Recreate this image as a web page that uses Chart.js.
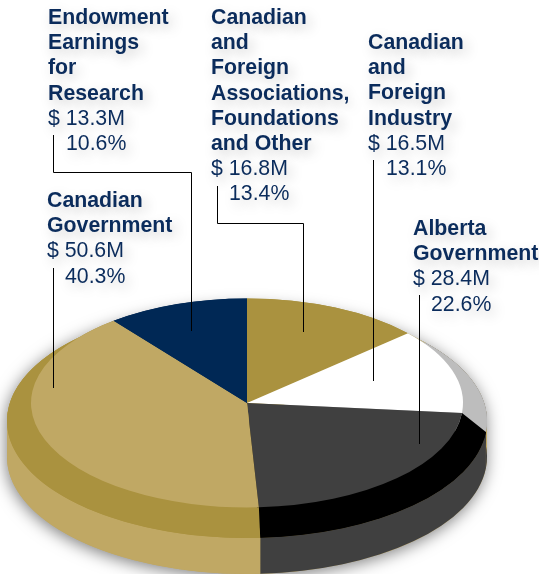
<!DOCTYPE html>
<html>
<head>
<meta charset="utf-8">
<style>html,body{margin:0;padding:0;background:#fff}canvas{display:block}</style>
<script src="https://cdn.jsdelivr.net/npm/chart.js@4"></script>
</head>
<body>
<canvas id="c" width="539" height="574"></canvas>
<script>
// Data, clockwise from 12 o'clock
const categories = [
  ["Canadian","and","Foreign","Associations,","Foundations","and Other"],
  ["Canadian","and","Foreign","Industry"],
  ["Alberta","Government"],
  ["Canadian","Government"],
  ["Endowment","Earnings","for","Research"]
];
const dollars = [16.8, 16.5, 28.4, 50.6, 13.3];
const percents = ["13.4%", "13.1%", "22.6%", "40.3%", "10.6%"];

// Styles
const topColors  = ["#AA923F", "#FFFFFF", "#404040", "#C0A864", "#002855"];
const rimColors  = ["#AA923F", "#BDBDBD", "#000000", "#AA923F", "#002855"];
const sideColors = ["#AA923F", "#404040", "#404040", "#C0A864", "#002855"];
const NAVY = "#0B2C5C";

// Layout of the label blocks: left x, first baseline
const labelX = [211, 368, 413, 47, 48];
const labelY = [24, 49, 235, 207, 24];
const LINE = 25.2;
const leaders = [
  [[217,186],[217,223.5],[303,223.5],[303,332]],
  [[373,160],[373,381]],
  [[419,295],[419,444]],
  [[53,268],[53,388]],
  [[53,135],[53,172.5],[191,172.5],[191,331]]
];

// Projection of the pie
const TOP_CY = 403, SQUASH = 104.5 / 216;
const RIM_RATIO = 240 / 216, RIM_CY = 421, RIM_RY = 117, DEPTH = 36;

const pie3d = {
  id: "pie3d",
  beforeDatasetsDraw(chart) {
    const ctx = chart.ctx, arcs = chart.getDatasetMeta(0).data;
    const cx = arcs[0].x, rx = arcs[0].outerRadius * RIM_RATIO;
    // soft drop shadow under the whole body
    ctx.save();
    ctx.shadowColor = "rgba(0,0,0,0.5)";
    ctx.shadowBlur = 16;
    ctx.shadowOffsetX = -1;
    ctx.shadowOffsetY = 3;
    ctx.fillStyle = "#C0A864";
    ctx.beginPath();
    ctx.ellipse(cx, RIM_CY, rx, RIM_RY, 0, Math.PI, 0);
    ctx.ellipse(cx, RIM_CY + DEPTH, rx, RIM_RY, 0, 0, Math.PI);
    ctx.closePath();
    ctx.fill();
    ctx.restore();
    // side wall
    arcs.forEach((a, i) => {
      ctx.fillStyle = sideColors[i];
      ctx.beginPath();
      ctx.ellipse(cx, RIM_CY, rx, RIM_RY, 0, a.startAngle, a.endAngle);
      ctx.ellipse(cx, RIM_CY + DEPTH, rx, RIM_RY, 0, a.endAngle, a.startAngle, true);
      ctx.closePath();
      ctx.fill();
    });
    // bevel rim
    arcs.forEach((a, i) => {
      ctx.fillStyle = rimColors[i];
      ctx.beginPath();
      ctx.moveTo(cx, RIM_CY);
      ctx.ellipse(cx, RIM_CY, rx, RIM_RY, 0, a.startAngle, a.endAngle);
      ctx.closePath();
      ctx.fill();
    });
    // bevel band between the top face and the rim
    arcs.forEach((a, i) => {
      const r = a.outerRadius, ry = r * SQUASH;
      ctx.fillStyle = rimColors[i];
      ctx.beginPath();
      ctx.ellipse(cx, TOP_CY, r, ry, 0, a.startAngle, a.endAngle);
      ctx.ellipse(cx, RIM_CY, rx, RIM_RY, 0, a.endAngle, a.startAngle, true);
      ctx.closePath();
      ctx.fill();
    });
    // flatten the library's round pie onto the top face
    ctx.save();
    ctx.translate(0, TOP_CY);
    ctx.scale(1, SQUASH);
    ctx.translate(0, -arcs[0].y);
  },
  afterDatasetsDraw(chart) {
    const ctx = chart.ctx;
    ctx.restore();
    // leader lines
    ctx.save();
    ctx.strokeStyle = "#000";
    ctx.lineWidth = 1;
    leaders.forEach(path => {
      ctx.beginPath();
      path.forEach((p, k) => {
        const x = Math.round(p[0]) + 0.5, y = p[1];
        k ? ctx.lineTo(x, y) : ctx.moveTo(x, y);
      });
      ctx.stroke();
    });
    ctx.restore();
    // label blocks
    ctx.save();
    ctx.fillStyle = NAVY;
    ctx.textBaseline = "alphabetic";
    ctx.textAlign = "left";
    ctx.shadowColor = "rgba(0,0,0,0.22)";
    ctx.shadowBlur = 13;
    ctx.shadowOffsetX = 4;
    ctx.shadowOffsetY = 5;
    categories.forEach((lines, i) => {
      let y = labelY[i];
      ctx.font = "bold 21.3px 'Liberation Sans'";
      lines.forEach(t => { ctx.fillText(t, labelX[i], y); y += LINE; });
      ctx.font = "21.3px 'Liberation Sans'";
      ctx.fillText("$ " + dollars[i].toFixed(1) + "M", labelX[i], y); y += LINE;
      ctx.fillText(percents[i], labelX[i] + 18, y);
    });
    ctx.restore();
  }
};

new Chart(document.getElementById("c"), {
  type: "pie",
  plugins: [pie3d],
  data: {
    labels: categories.map(l => l.join(" ")),
    datasets: [{ data: dollars, backgroundColor: topColors, borderWidth: 0, clip: false }]
  },
  options: {
    responsive: false,
    animation: false,
    events: [],
    layout: { padding: { left: 31, right: 76, top: 71, bottom: 71 } },
    plugins: { legend: { display: false }, tooltip: { enabled: false }, title: { display: false } }
  }
});
</script>
</body>
</html>
